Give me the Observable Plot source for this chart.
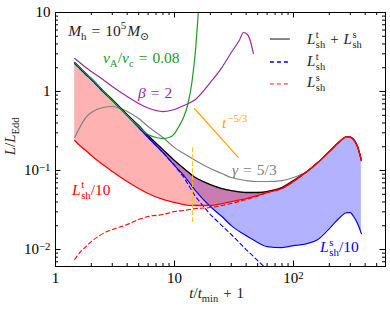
<!DOCTYPE html>
<html><head><meta charset="utf-8">
<script src="https://cdn.jsdelivr.net/npm/d3@7"></script>
<script src="https://cdn.jsdelivr.net/npm/@observablehq/plot@0.6"></script>
<style>body{margin:0;background:#fff}</style>
</head><body><div id="chart"></div>
<script>
// ---- data ----
const tGrid = [1.45,1.6,1.8,2,2.5,3,4,5,6,8,10,12,15,20,25,30,40,50,60,80,100,130,160,200,250,280,300,320,345,372];
// L_sh^t + L_sh^s (black)
const totalL = [2.33,2.01,1.69,1.46,1.03,0.792,0.512,0.371,0.277,0.184,0.134,0.106,0.0815,0.0665,0.0592,0.0558,0.0527,0.0527,0.0542,0.0609,0.0747,0.0971,0.126,0.174,0.240,0.269,0.265,0.247,0.201,0.134];
// red solid curve
const redL = [0.240,0.207,0.179,0.155,0.119,0.0971,0.0726,0.0592,0.0512,0.0430,0.0394,0.0371,0.0361,0.0361,0.0382,0.0405,0.0442,0.0483,0.0527,0.0592,0.0726,0.0971,0.126,0.174,0.240,0.269,0.265,0.247,0.201,0.134];
// blue solid curve
const blueL = [2.26,1.95,1.64,1.42,1.00,0.769,0.497,0.350,0.262,0.169,0.116,0.0864,0.0558,0.0350,0.0262,0.0201,0.0150,0.0123,0.0109,0.0106,0.0112,0.0119,0.0134,0.0184,0.0262,0.0294,0.0294,0.0262,0.0213,0.0159];
// gamma = 5/3 (gray)
const gammaL = [0.262,0.350,0.469,0.542,0.627,0.646,0.558,0.455,0.360,0.262,0.195,0.164,0.134,0.106,0.0916,0.0815,0.0747,0.0726,0.0726,0.0747,0.0815,0.0971,0.126,0.174,0.240,0.269,0.265,0.247,0.201,0.134];
// L_sh^s (red dashed), on tGrid
const dashSL = [0.00747,0.00916,0.0109,0.0126,0.0159,0.0179,0.0207,0.0240,0.0262,0.0277,0.0303,0.0312,0.0330,0.0340,0.0361,0.0382,0.0430,0.0475,0.0527,0.0592,0.0726,0.0971,0.126,0.174,0.240,0.269,0.265,0.247,0.201,0.134];
// L_sh^t (blue dashed)
const tDashT = [1.45,1.6,1.8,2,2.5,3,4,5,6,8,10,12,15,20,25,30,40,50,60];
const dashTL = [2.26,1.95,1.64,1.42,1.00,0.769,0.497,0.350,0.262,0.169,0.116,0.0815,0.0469,0.0277,0.0201,0.0155,0.0100,0.00726,0.00558];
// vA/vc = 0.08 (green)
const tGreen = [1.45,1.6,1.8,2,2.5,3,4,5,6,7,8,9,10,11,12,13,14,15,16];
const greenL = [2.33,2.01,1.69,1.46,1.03,0.769,0.497,0.360,0.286,0.262,0.254,0.262,0.294,0.371,0.483,0.705,1.30,3.30,12.3];
// beta = 2 (purple)
const tBeta = [1.45,1.6,1.8,2,2.5,3,4,5,6,8,10,12,15,20,25,30,35,38,41,43.5,46];
const betaL = [2.62,2.33,2.01,1.79,1.42,1.16,0.864,0.705,0.618,0.558,0.592,0.665,0.792,1.30,2.01,3.12,4.42,5.58,5.27,4.30,3.03];
// t^-5/3 guide and vertical marker
const tSlope = [14.7, 34.5];
const slopeL = [0.61, 0.146];
const tMark = [14.2, 14.2];
const markL = [0.195, 0.022];
// ticks
const xMajor = [1, 10, 100];
const xMinor = [2,3,4,5,6,7,8,9,20,30,40,50,60,70,80,90,200,300,400,500];
const yMajor = [0.01, 0.1, 1, 10];
const yMinor = [0.007,0.008,0.009,0.02,0.03,0.04,0.05,0.06,0.07,0.08,0.09,0.2,0.3,0.4,0.5,0.6,0.7,0.8,0.9,2,3,4,5,6,7,8,9];
const xTickText = {1: "1", 10: "10", 100: "10^2"};
const yTickText = {0.01: "10^\u22122", 0.1: "10^\u22121", 1: "1", 10: "10"};

// ---- layout / styles ----
const FONT = "'Liberation Serif', 'DejaVu Serif', serif";
const W = 390, H = 309, mL = 55, mR = 5, mT = 12, mB = 43;
const fw = W - mL - mR, fh = H - mT - mB;
const PURPLE = "#952c9f", GREEN = "#229922";
const FS = 15, AS = 15.5, LS = 15;

const rows = tGrid.map((t, i) => ({t, k: totalL[i], r: redL[i], b: blueL[i], g: gammaL[i], s: dashSL[i]}));
const rowsDT = tDashT.map((t, i) => ({t, v: dashTL[i]}));
const rowsG = tGreen.map((t, i) => ({t, v: greenL[i]}));
const rowsB = tBeta.map((t, i) => ({t, v: betaL[i]}));
const rowsS = tSlope.map((t, i) => ({t, v: slopeL[i]}));
const rowsM = tMark.map((t, i) => ({t, v: markL[i]}));

const plot = Plot.plot({
  width: W, height: H,
  marginLeft: mL, marginRight: mR, marginTop: mT, marginBottom: mB,
  style: {fontFamily: FONT, fontSize: FS + "px", background: "white", color: "black"},
  x: {type: "log", domain: [1, 593]},
  y: {type: "log", domain: [0.0061, 10]},
  marks: [
    Plot.areaY(rows, {x: "t", y1: "b", y2: "k", fill: "blue", fillOpacity: 0.3}),
    Plot.areaY(rows, {x: "t", y1: "r", y2: "k", fill: "red", fillOpacity: 0.3}),
    Plot.line(rows, {x: "t", y: "g", stroke: "gray", strokeWidth: 1.2, curve: "monotone-x"}),
    Plot.line(rows, {x: "t", y: "k", stroke: "black", strokeWidth: 1.3, curve: "monotone-x"}),
    Plot.line(rows, {x: "t", y: "b", stroke: "blue", strokeWidth: 1.2, curve: "monotone-x"}),
    Plot.line(rowsDT, {x: "t", y: "v", stroke: "blue", strokeWidth: 1.1, strokeDasharray: "4,3", clip: true}),
    Plot.line(rows, {x: "t", y: "s", stroke: "red", strokeWidth: 1.1, strokeDasharray: "4,3", curve: "monotone-x"}),
    Plot.line(rows, {x: "t", y: "r", stroke: "red", strokeWidth: 1.3, curve: "monotone-x"}),
    Plot.line(rowsG, {x: "t", y: "v", stroke: GREEN, strokeWidth: 1.2, curve: "monotone-x", clip: true}),
    Plot.line(rowsB, {x: "t", y: "v", stroke: PURPLE, strokeWidth: 1.2, curve: "monotone-x"}),
    Plot.line(rowsS, {x: "t", y: "v", stroke: "orange", strokeWidth: 1.2}),
    Plot.line(rowsM, {x: "t", y: "v", stroke: "#ffc000", strokeWidth: 1, strokeDasharray: "4,3"}),
    // inward ticks on all four sides
    Plot.tickX(xMajor, {x: d => d, insetTop: fh - 5.5, stroke: "black"}),
    Plot.tickX(xMinor, {x: d => d, insetTop: fh - 3, stroke: "black"}),
    Plot.tickX(xMajor, {x: d => d, insetBottom: fh - 5.5, stroke: "black"}),
    Plot.tickX(xMinor, {x: d => d, insetBottom: fh - 3, stroke: "black"}),
    Plot.tickY(yMajor, {y: d => d, insetRight: fw - 5.5, stroke: "black"}),
    Plot.tickY(yMinor, {y: d => d, insetRight: fw - 3, stroke: "black"}),
    Plot.tickY(yMajor, {y: d => d, insetLeft: fw - 5.5, stroke: "black"}),
    Plot.tickY(yMinor, {y: d => d, insetLeft: fw - 3, stroke: "black"}),
    Plot.axisX({anchor: "bottom", ticks: xMajor, tickSize: 0, tickPadding: 6, tickFormat: d => xTickText[d], label: null}),
    Plot.axisY({anchor: "left", ticks: yMajor, tickSize: 0, tickPadding: 5, tickFormat: d => yTickText[d], label: null}),
    Plot.frame({stroke: "black", strokeWidth: 1})
  ]
});
document.getElementById("chart").append(plot);

const svg = d3.select(plot);
const sx = plot.scale("x"), sy = plot.scale("y");
const X = v => sx.apply(v), Y = v => sy.apply(v);

// superscripts in tick labels
svg.selectAll('g[aria-label="x-axis tick label"] text, g[aria-label="y-axis tick label"] text').each(function() {
  const el = d3.select(this);
  const s = el.text();
  if (s.includes("^")) {
    const [base, exp] = s.split("^");
    el.text(base);
    el.append("tspan").attr("dy", "-0.42em").attr("font-size", "72%").text(exp);
  }
});

// math text helper: tokens are [text, kind], numbers (gap px) or {st:[sup, sub]}
function mt(x, y, toks, {size = AS, fill = "black", anchor = "start", rotate = 0} = {}) {
  const g = svg.append("g").attr("fill", fill).attr("font-family", FONT).attr("font-size", size)
    .attr("text-anchor", "start");
  const inner = g.append("g");
  let cx = 0;
  const put = (s, dy, fs, it) => {
    const t = inner.append("text").attr("x", cx).attr("y", dy).attr("font-size", fs)
      .attr("text-anchor", "start").text(s);
    if (it) t.attr("font-style", "italic");
    return t.node().getComputedTextLength();
  };
  for (const k of toks) {
    if (typeof k === "number") { cx += k; continue; }
    if (k.st) {
      const x0 = cx;
      const w1 = put(k.st[0], -size * 0.42, size * 0.7, false);
      cx = x0;
      const w2 = put(k.st[1], size * 0.28, size * 0.7, false);
      cx = x0 + Math.max(w1, w2);
      continue;
    }
    const [s, f] = k;
    if (f === "sup") cx += put(s, -size * 0.42, size * 0.7, false);
    else if (f === "sub") cx += put(s, size * 0.26, size * 0.7, false);
    else cx += put(s, 0, size, f === "i");
  }
  const shift = anchor === "middle" ? cx / 2 : anchor === "end" ? cx : 0;
  inner.attr("transform", `translate(${-shift},0)`);
  g.attr("transform", `translate(${x},${y}) rotate(${rotate})`);
}

const Lt = [["L", "i"], 0.5, {st: ["t", "sh"]}];
const Ls = [["L", "i"], 0.5, {st: ["s", "sh"]}];

// annotations (anchor positions in data coordinates)
mt(X(1.29), Y(5.0), [["M", "i"], ["h", "sub"], 5, ["=", "r"], 5, ["10", "r"], ["5", "sup"], 1, ["M", "i"], ["\u2299", "sub"]], {fill: "#222"});
mt(X(2.53), Y(2.26), [["v", "i"], ["A", "sub"], ["/", "r"], ["v", "i"], ["c", "sub"], 5, ["=", "r"], 5, ["0.08", "r"]], {fill: GREEN});
mt(X(4.98), Y(0.815), [["\u03b2", "i"], 5, ["=", "r"], 5, ["2", "r"]], {fill: PURPLE});
mt(X(25.3), Y(0.34), [["t", "i"], 1, ["\u22125/3", "sup"]], {fill: "orange"});
mt(X(30.7), Y(0.0864), [["\u03b3", "i"], 5, ["=", "r"], 5, ["5/3", "r"]], {fill: "gray"});
mt(X(1.39), Y(0.0483), [...Lt, ["/10", "r"]], {fill: "red"});
mt(X(169), Y(0.00916), [...Ls, ["/10", "r"]], {fill: "blue"});

// legend
const legX0 = X(64), legX1 = X(94), legTX = X(131);
const legend = [
  {y: Y(4.55), ty: Y(3.94), stroke: "#444", dash: null, toks: [...Lt, 5, ["+", "r"], 5, ...Ls]},
  {y: Y(2.33), ty: Y(2.07), stroke: "blue", dash: "4,3", toks: Lt},
  {y: Y(1.23), ty: Y(1.12), stroke: "#ff5050", dash: "4,3", toks: Ls}
];
for (const e of legend) {
  const ln = svg.append("line").attr("x1", legX0).attr("x2", legX1).attr("y1", e.y).attr("y2", e.y)
    .attr("stroke", e.stroke).attr("stroke-width", 1.3);
  if (e.dash) ln.attr("stroke-dasharray", e.dash);
  mt(legTX, e.ty, e.toks, {fill: "#222", size: LS});
}

// axis titles
mt(mL + fw * 0.49, H - 11, [["t", "i"], ["/", "r"], ["t", "i"], ["min", "sub"], 5, ["+", "r"], 5, ["1", "r"]], {anchor: "middle", fill: "#222", size: FS});
mt(15, mT + fh * 0.49, [["L", "i"], ["/", "r"], ["L", "i"], ["Edd", "sub"]], {anchor: "middle", rotate: -90, fill: "#222", size: FS});
</script>
</body></html>
